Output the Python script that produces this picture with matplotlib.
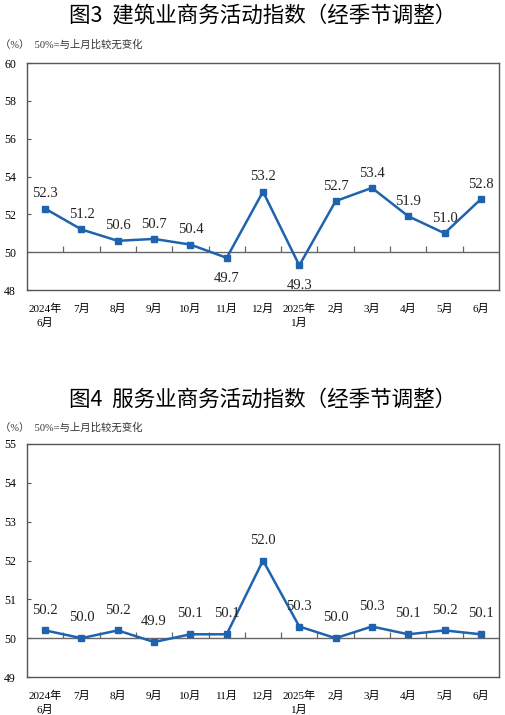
import numpy as np
import matplotlib
matplotlib.use('Agg')
import matplotlib.pyplot as plt

plt.rcParams['font.family'] = ['Liberation Serif', 'Noto Sans CJK SC']

months = ['2024年\n6月', '7月', '8月', '9月', '10月', '11月', '12月',
          '2025年\n1月', '2月', '3月', '4月', '5月', '6月']
construction = [52.3, 51.2, 50.6, 50.7, 50.4, 49.7, 53.2, 49.3, 52.7, 53.4, 51.9, 51.0, 52.8]
services = [50.2, 50.0, 50.2, 49.9, 50.1, 50.1, 52.0, 50.3, 50.0, 50.3, 50.1, 50.2, 50.1]
construction_below = [5, 7]   # labels drawn under the point

title1 = '图3  建筑业商务活动指数（经季节调整）'
title2 = '图4  服务业商务活动指数（经季节调整）'
note = '（%）  50%=与上月比较无变化'

line_color = '#1f63ae'
cjk_sans = ['Noto Sans CJK SC', 'DejaVu Sans']


def draw_panel(ax, values, ylim, yticks, below, off):
    x = np.arange(len(values))
    ax.plot(x, values, color=line_color, lw=1.8, marker='s', ms=5,
            mec=line_color, mfc=line_color, zorder=3)
    ax.axhline(50, color='#666666', lw=1.0, zorder=2)
    ax.plot(np.arange(len(values) - 1) + 0.5, [50] * (len(values) - 1),
            ls='none', marker=2, ms=4, color='#666666', mew=0.9)
    for i, v in enumerate(values):
        if i in below:
            ax.annotate(f'{v:.1f}', (i, v), xytext=(0, -10), textcoords='offset points',
                        ha='center', va='top', fontsize=10.5, color='#222222')
        else:
            ax.annotate(f'{v:.1f}', (i, v), xytext=(0, off), textcoords='offset points',
                        ha='center', va='bottom', fontsize=10.5, color='#222222')
    ax.set_xlim(-0.5, len(values) - 0.5)
    ax.set_ylim(*ylim)
    ax.set_yticks(yticks)
    ax.set_yticklabels([str(t) for t in yticks], fontsize=8.5)
    ax.set_xticks(x)
    ax.set_xticklabels(months, fontsize=8, linespacing=1.45)
    ax.tick_params(axis='x', length=0, pad=10)
    ax.tick_params(axis='y', direction='in', length=3, pad=8, color='#555555')
    for s in ax.spines.values():
        s.set_color('#555555')
        s.set_linewidth(1.0)


fig = plt.figure(figsize=(5.05, 7.15), dpi=100)

ax1 = fig.add_axes([27 / 505, 1 - 290 / 715, 472 / 505, 227 / 715])
draw_panel(ax1, construction, (48, 60), [48, 50, 52, 54, 56, 58, 60], construction_below, 6)

ax2 = fig.add_axes([27 / 505, 1 - 677 / 715, 472 / 505, 233 / 715])
draw_panel(ax2, services, (49, 55), [49, 50, 51, 52, 53, 54, 55], [], 10)

fig.text(0.52, 1 - 15 / 715, title1, ha='center', va='center', fontsize=15.5, family=cjk_sans)
fig.text(0.52, 1 - 400 / 715, title2, ha='center', va='center', fontsize=15.5, family=cjk_sans)
fig.text(0.0, 1 - 45 / 715, note, ha='left', va='center', fontsize=7.5, color='#333333')
fig.text(0.0, 1 - 428 / 715, note, ha='left', va='center', fontsize=7.5, color='#333333')

fig.savefig('out.png', dpi=100)
